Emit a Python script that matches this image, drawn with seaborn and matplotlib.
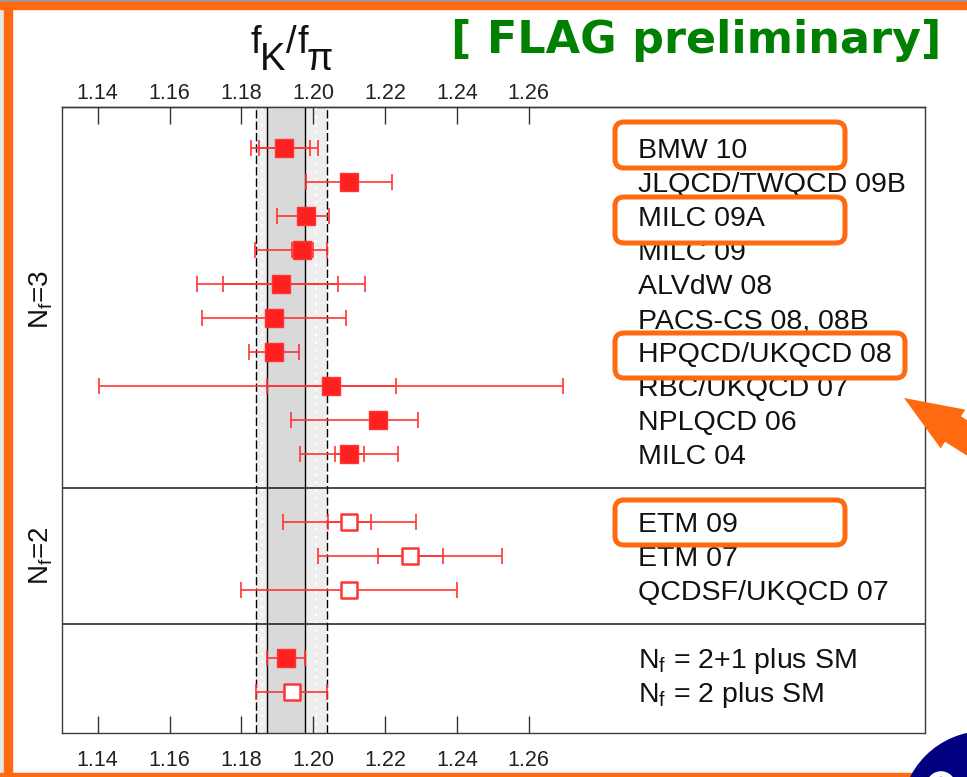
import numpy as np
import pandas as pd
import matplotlib
matplotlib.use("Agg")
import matplotlib.pyplot as plt
import seaborn as sns
from matplotlib.patches import FancyBboxPatch, Rectangle, Polygon, Circle
from matplotlib.transforms import blended_transform_factory

# ---------------------------------------------------------------- data
tick_values = [1.14, 1.16, 1.18, 1.20, 1.22, 1.24, 1.26]
tick_labels = ["1.14", "1.16", "1.18", "1.20", "1.22", "1.24", "1.26"]

nf3_labels = ["BMW 10", "JLQCD/TWQCD 09B", "MILC 09A", "MILC 09", "ALVdW 08",
              "PACS-CS 08, 08B", "HPQCD/UKQCD 08", "RBC/UKQCD 07", "NPLQCD 06",
              "MILC 04"]
nf3_central = [1.192, 1.210, 1.198, 1.197, 1.191, 1.189, 1.189, 1.205, 1.218, 1.210]
nf3_stat = [0.007, np.nan, 0.002, 0.003, 0.016, np.nan, np.nan, 0.018, 0.002, 0.004]
nf3_err_lo = [0.0092, 0.012, 0.0082, 0.0133, 0.0233, 0.020, 0.007, 0.0646, 0.0241, 0.0136]
nf3_err_hi = [0.0092, 0.012, 0.0063, 0.0067, 0.0233, 0.020, 0.007, 0.0646, 0.0112, 0.0136]

nf2_labels = ["ETM 09", "ETM 07", "QCDSF/UKQCD 07"]
nf2_central = [1.210, 1.227, 1.210]
nf2_stat = [0.006, 0.009, np.nan]
nf2_err = [0.0185, 0.0256, 0.030]

sm_labels = [r"N$_\mathregular{f}$ = 2+1 plus SM", r"N$_\mathregular{f}$ = 2 plus SM"]
sm_central = [1.1925, 1.194]
sm_err = [0.0053, 0.0099]
sm_filled = [True, False]

highlighted = ["BMW 10", "MILC 09A", "HPQCD/UKQCD 08", "ETM 09"]

# row layout: N_f=3 block, separator, N_f=2 block, separator, averages
nf3_rows = list(range(0, 10))
nf2_rows = [11, 12, 13]
sm_rows = [15, 16]
separators = [10, 14]

# ---------------------------------------------------------------- style
sns.set_style("white")
plt.rcParams["font.family"] = ["Liberation Sans", "DejaVu Sans"]
plt.rcParams["mathtext.fontset"] = "custom"
plt.rcParams["mathtext.rm"] = "Liberation Sans"
plt.rcParams["mathtext.it"] = "Liberation Sans"
plt.rcParams["mathtext.bf"] = "Liberation Sans:bold"

RED = "#ff2020"
ERR = "#ff3535"
ORANGE = "#ff6a10"
W, H = 967, 777

fig = plt.figure(figsize=(W / 100, H / 100), dpi=100)
fig.patch.set_facecolor("white")

def px(x, y):
    """pixel position (from top-left) -> inches for dpi_scale_trans"""
    return x / 100, (H - y) / 100

inch = fig.dpi_scale_trans

# slide frame
fig.patches.append(Rectangle((0, 0), 4 / W, 1, transform=fig.transFigure,
                             color="#e6e6e6", zorder=0))
fig.patches.append(Rectangle((4 / W, 0), 7.7 / W, 1, transform=fig.transFigure,
                             color=ORANGE, zorder=1))
fig.patches.append(Rectangle((0, 1 - 2 / H), 1, 2 / H, transform=fig.transFigure,
                             color="#9a9a9a", zorder=1))
fig.patches.append(Rectangle((0, 1 - 9 / H), 1, 7 / H, transform=fig.transFigure,
                             color=ORANGE, zorder=1))
fig.patches.append(Rectangle((0, 0), 1, 4.5 / H, transform=fig.transFigure,
                             color=ORANGE, zorder=1))

ax = fig.add_axes([62 / W, 1 - 733 / H, 863 / W, 626 / H])
ax.set_facecolor("white")

# ---------------------------------------------------------------- averages bands
dark_lo, dark_hi = sm_central[0] - sm_err[0], sm_central[0] + sm_err[0]
light_lo, light_hi = sm_central[1] - sm_err[1], sm_central[1] + sm_err[1]
ax.axvspan(light_lo, light_hi, color="#eeeeee", lw=0, zorder=0)
ax.axvspan(dark_lo, dark_hi, color="#d9d9d9", lw=0, zorder=0.2)
for xv in [(light_lo + dark_lo) / 2, (dark_hi + light_hi) / 2]:
    ax.axvline(xv, color="white", lw=1.4, ls=(0, (1.5, 2.5)), zorder=0.3)
for xv in [light_lo, light_hi]:
    ax.axvline(xv, color="black", lw=1.0, ls=(0, (6, 2.2)), zorder=1)
for xv in [dark_lo, dark_hi]:
    ax.axvline(xv, color="black", lw=1.0, zorder=1)
for yv in separators:
    ax.axhline(yv, color="#1a1a1a", lw=1.1, zorder=1.2)

# ---------------------------------------------------------------- error bars
eb = dict(fmt="none", ecolor=ERR, elinewidth=1.2, capsize=6.1, capthick=1.2, zorder=3)

ax.errorbar(nf3_central, nf3_rows, xerr=[nf3_err_lo, nf3_err_hi], **eb)
ax.errorbar(nf2_central, nf2_rows, xerr=nf2_err, **eb)
ax.errorbar(sm_central, sm_rows, xerr=sm_err, **eb)

stat_c = [c for c, s in zip(nf3_central + nf2_central, nf3_stat + nf2_stat) if not np.isnan(s)]
stat_r = [r for r, s in zip(nf3_rows + nf2_rows, nf3_stat + nf2_stat) if not np.isnan(s)]
stat_e = [s for s in nf3_stat + nf2_stat if not np.isnan(s)]
ax.errorbar(stat_c, stat_r, xerr=stat_e, **eb)

# ---------------------------------------------------------------- markers
points = pd.DataFrame({
    "value": nf3_central + nf2_central + sm_central,
    "row": nf3_rows + nf2_rows + sm_rows,
    "filled": [True] * len(nf3_central) + [False] * len(nf2_central) + sm_filled,
})
sns.scatterplot(data=points[points["filled"]], x="value", y="row", marker="s",
                s=150, color=RED, edgecolor=ERR, linewidth=1.0, zorder=5,
                legend=False, ax=ax)
sns.scatterplot(data=points[~points["filled"]], x="value", y="row", marker="s",
                s=132, color="white", edgecolor=ERR, linewidth=1.8, zorder=5,
                legend=False, ax=ax)

# ---------------------------------------------------------------- labels
lab_tr = blended_transform_factory(ax.transAxes, ax.transData)
for name, r in zip(nf3_labels + nf2_labels + sm_labels, nf3_rows + nf2_rows + sm_rows):
    ax.text(0.6674, r + 0.295, name, transform=lab_tr, ha="left", va="baseline",
            fontsize=20.5, color="#111111")

# ---------------------------------------------------------------- axes
ax.set_xlim(1.13006, 1.37032)
ax.set_ylim(17.2, -1.215)
ax.set_yticks([])
ax.set_xlabel("")
ax.set_ylabel("")
ax.set_xticks(tick_values)
ax.set_xticklabels(tick_labels)
ax.tick_params(axis="x", direction="in", length=12.2, width=1.0, color="#333333",
               labelsize=15.5, labelcolor="#222222", pad=12, top=False, bottom=True)
for sp in ax.spines.values():
    sp.set_visible(True)
    sp.set_linewidth(1.0)
    sp.set_color("#3a3a3a")

sec = ax.secondary_xaxis("top")
sec.set_xticks(tick_values)
sec.set_xticklabels(tick_labels)
sec.tick_params(axis="x", direction="in", length=12.2, width=1.0, color="#333333",
                labelsize=15.5, labelcolor="#222222", pad=2)
sec.spines["top"].set_linewidth(1.0)
sec.spines["top"].set_color("#3a3a3a")

# group labels on the left
fig.text(41 / W, 1 - 300 / H, r"N$_\mathregular{f}$=3", rotation=90, ha="center",
         va="center", fontsize=20, color="#111111")
fig.text(41 / W, 1 - 556 / H, r"N$_\mathregular{f}$=2", rotation=90, ha="center",
         va="center", fontsize=20, color="#111111")

# title f_K / f_pi with full-size, lowered subscripts
for piece, x, y in [("f", 251, 53), ("K", 260, 70.5), ("/", 286, 53),
                    ("f", 297, 53), ("\u03c0", 307, 70.5)]:
    fig.text(*px(x, y), piece, transform=inch, ha="left", va="baseline",
             fontsize=27.5, color="#111111")

fig.text(*px(451, 53), "[ FLAG preliminary]", transform=inch, ha="left",
         va="baseline", fontsize=32, fontweight="bold", color="#008000",
         family="DejaVu Sans")

# highlight boxes
for (x0, y0, x1, y1) in [(615, 122, 845, 168), (615, 197, 845, 243),
                         (615, 333, 905, 378), (615, 500, 845, 545)]:
    bx, by = px(x0, y1)
    fig.patches.append(FancyBboxPatch((bx, by), (x1 - x0) / 100, (y1 - y0) / 100,
                                      boxstyle="round,pad=0,rounding_size=0.09",
                                      transform=inch, fill=False, edgecolor=ORANGE,
                                      linewidth=3.6, zorder=10))

# pointing arrow
u = np.array([0.845, 0.535])
n = np.array([-0.535, 0.845])
tip = np.array([904.0, 398.0])
base = tip + 58 * u
pts = [tip, base + 23 * n, base + 15 * n, base + 15 * n + 140 * u,
       base - 15 * n + 140 * u, base - 15 * n, base - 23 * n]
fig.patches.append(Polygon([px(*p) for p in pts], closed=True, transform=inch,
                           facecolor=ORANGE, edgecolor="none", zorder=10))

# corner badge
fig.patches.append(Circle(px(985, 815), 0.84, transform=inch, facecolor="#000080",
                          edgecolor="none", zorder=11))
fig.patches.append(Circle(px(941, 786), 0.12, transform=inch, facecolor="none",
                          edgecolor="white", linewidth=4, zorder=12))

fig.savefig("out.png", dpi=100)
